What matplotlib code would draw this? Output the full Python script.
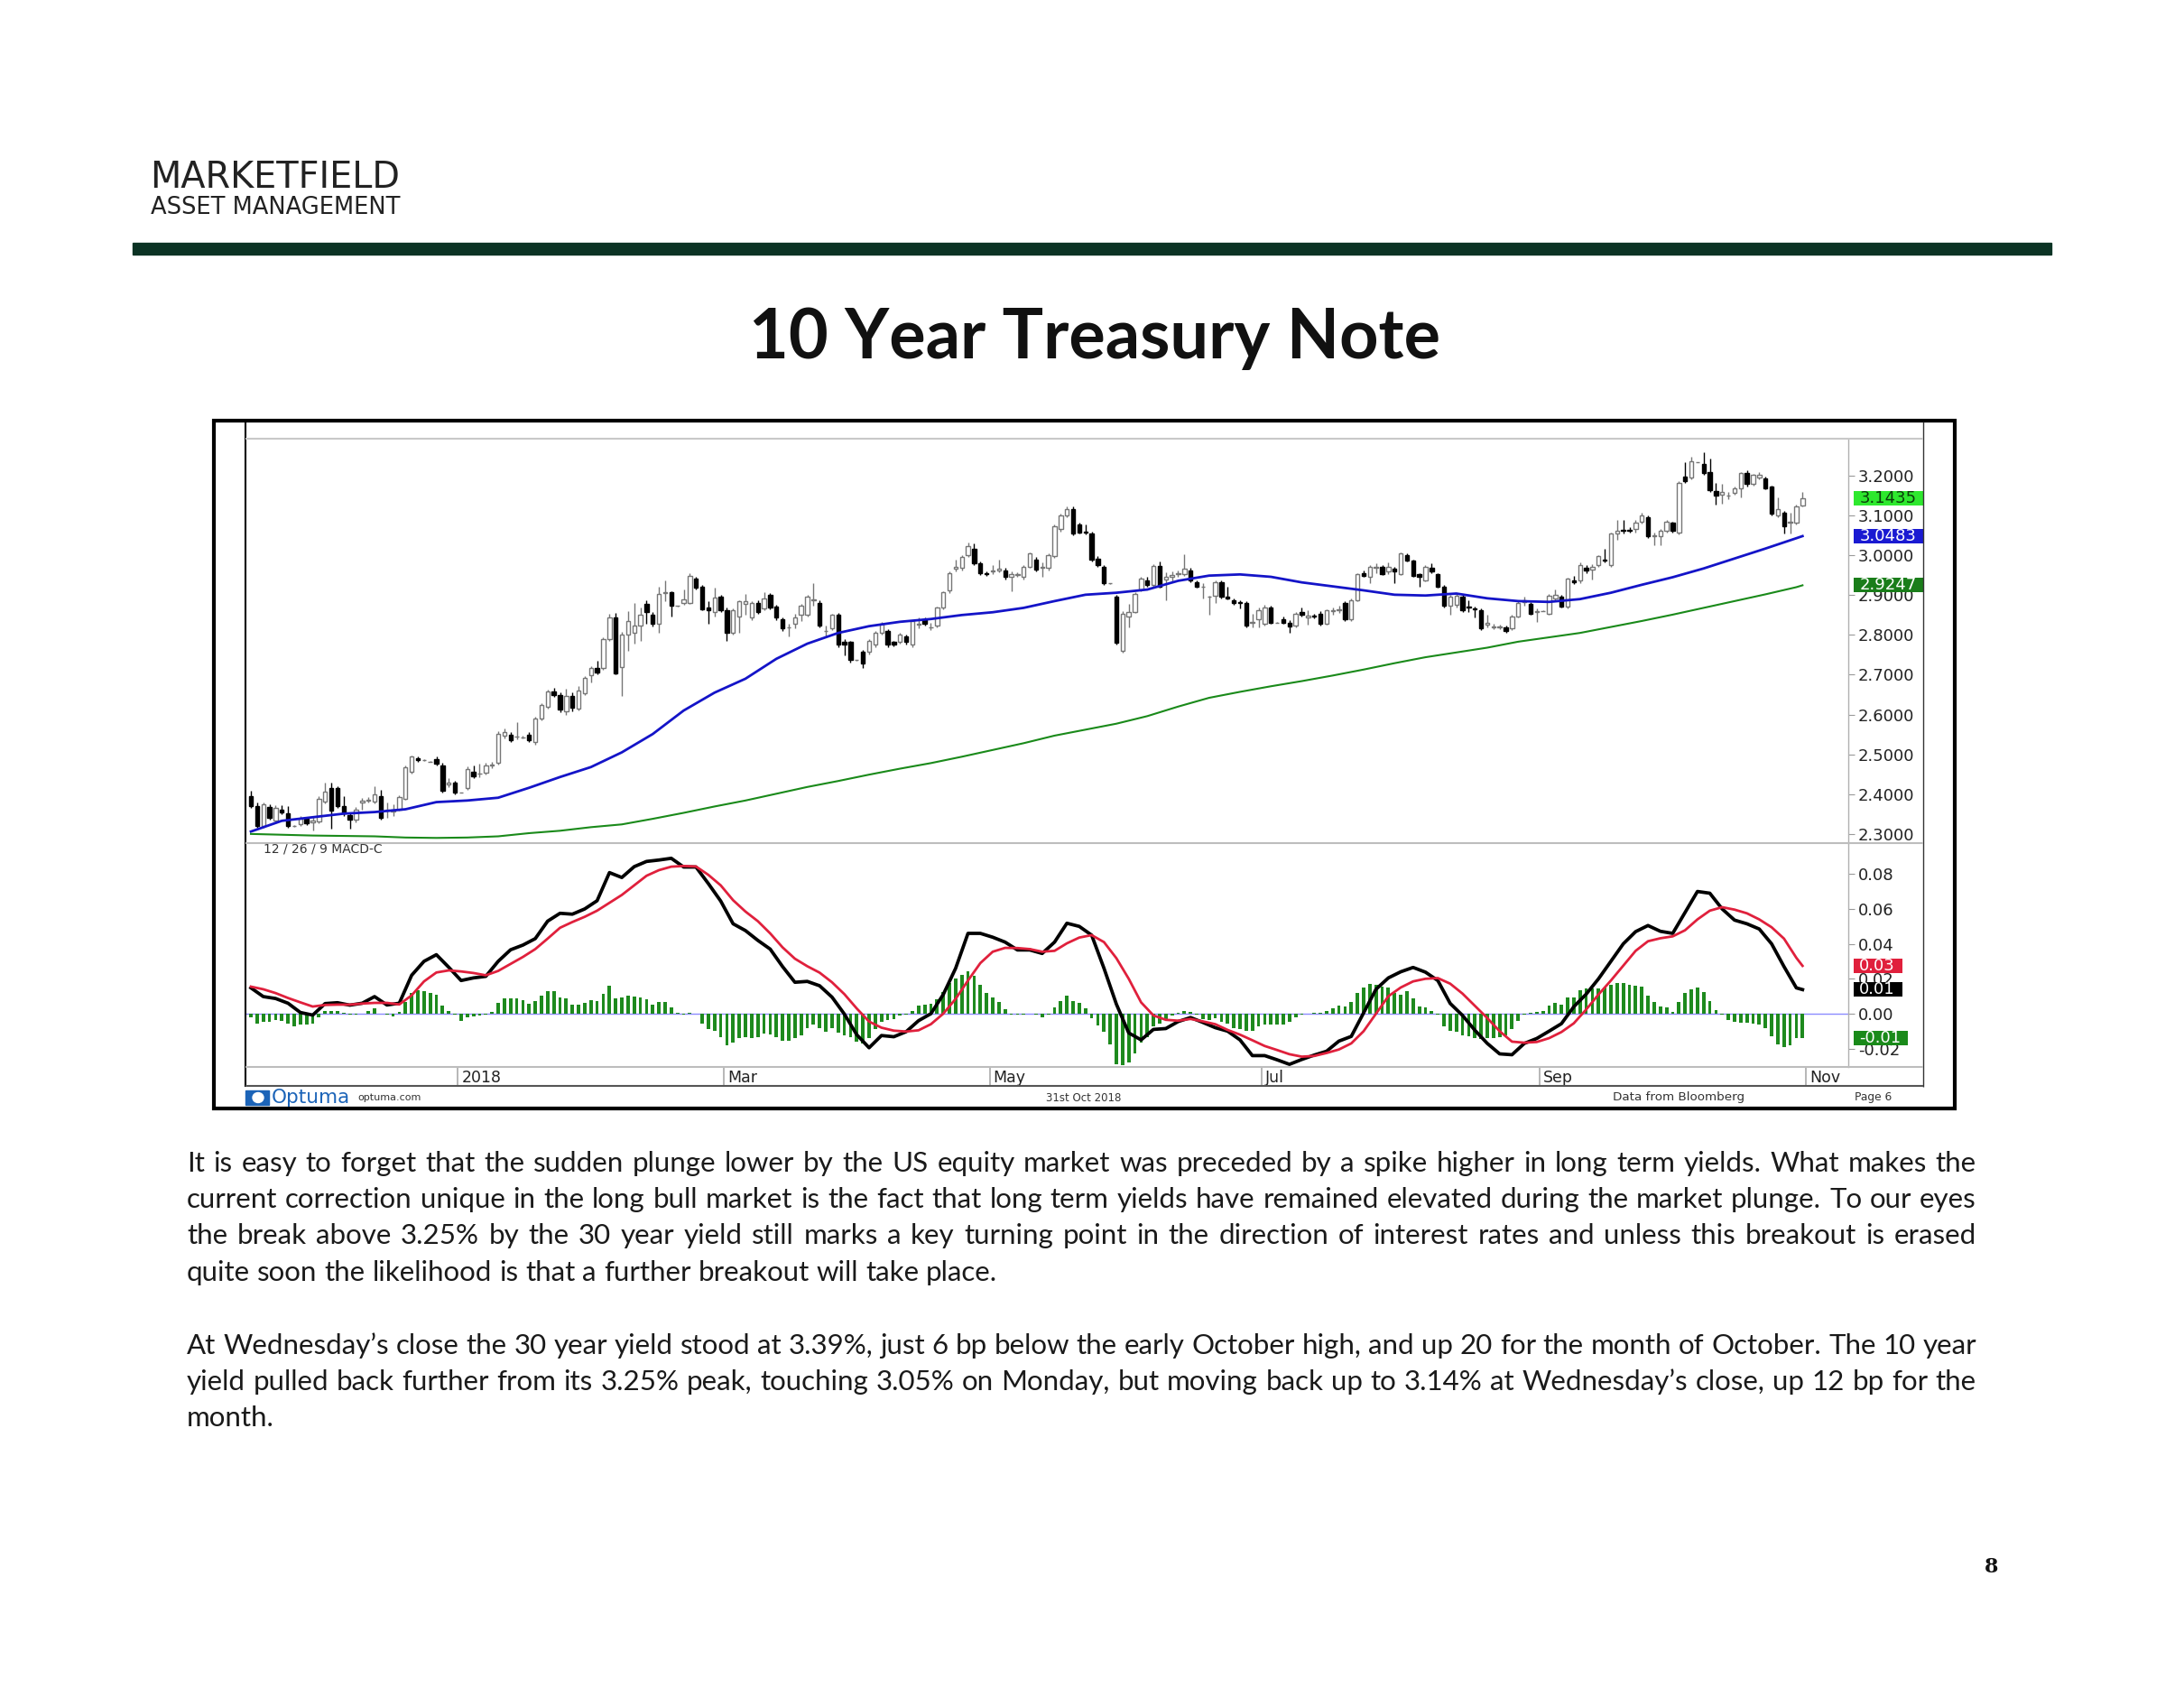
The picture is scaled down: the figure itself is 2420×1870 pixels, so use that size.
"""
10 Year Treasury Note - Marketfield page 8
Candlestick chart of the 10y yield with 50/200 day averages and MACD panel
"""
import matplotlib
matplotlib.use("Agg")
import matplotlib.pyplot as plt
import matplotlib.transforms as mtransforms
from matplotlib.lines import Line2D
from matplotlib.patches import Rectangle, Ellipse
import pandas as pd

# ---------------------------------------------------------------- data
first_day = "2017-11-14"
last_day = "2018-10-31"

opens = [
    2.396, 2.370, 2.320, 2.368, 2.333, 2.360, 2.351, 2.320, 2.324, 2.338,
    2.330, 2.332, 2.381, 2.416, 2.415, 2.371, 2.348, 2.336, 2.380, 2.384,
    2.381, 2.396, 2.358, 2.357, 2.362, 2.389, 2.457, 2.490, 2.485, 2.482,
    2.489, 2.472, 2.424, 2.430, 2.404, 2.415, 2.457, 2.451, 2.453, 2.472,
    2.479, 2.547, 2.549, 2.544, 2.543, 2.549, 2.530, 2.589, 2.620, 2.657,
    2.650, 2.608, 2.646, 2.616, 2.653, 2.699, 2.716, 2.718, 2.790, 2.843,
    2.720, 2.801, 2.805, 2.824, 2.878, 2.850, 2.828, 2.905, 2.907, 2.873,
    2.880, 2.881, 2.941, 2.920, 2.870, 2.858, 2.896, 2.862, 2.805, 2.847,
    2.877, 2.843, 2.880, 2.866, 2.900, 2.871, 2.840, 2.818, 2.828, 2.851,
    2.851, 2.886, 2.881, 2.810, 2.816, 2.850, 2.782, 2.782, 2.737, 2.757,
    2.757, 2.775, 2.805, 2.810, 2.782, 2.782, 2.797, 2.775, 2.826, 2.839,
    2.818, 2.824, 2.869, 2.911, 2.967, 2.968, 3.000, 3.017, 2.979, 2.956,
    2.960, 2.963, 2.963, 2.945, 2.950, 2.945, 2.972, 2.990, 2.968, 2.968,
    2.998, 3.066, 3.100, 3.115, 3.077, 3.060, 3.055, 2.992, 2.972, 2.930,
    2.896, 2.760, 2.847, 2.858, 2.915, 2.936, 2.926, 2.974, 2.940, 2.947,
    2.953, 2.952, 2.963, 2.933, 2.920, 2.895, 2.899, 2.933, 2.896, 2.888,
    2.882, 2.880, 2.830, 2.839, 2.828, 2.869, 2.831, 2.839, 2.830, 2.824,
    2.858, 2.845, 2.848, 2.854, 2.828, 2.860, 2.862, 2.880, 2.839, 2.888,
    2.956, 2.945, 2.968, 2.971, 2.960, 2.967, 2.953, 3.000, 2.987, 2.952,
    2.938, 2.968, 2.952, 2.922, 2.873, 2.875, 2.896, 2.872, 2.867, 2.862,
    2.826, 2.820, 2.820, 2.820, 2.816, 2.847, 2.882, 2.877, 2.858, 2.860,
    2.854, 2.892, 2.896, 2.871, 2.937, 2.937, 2.969, 2.964, 2.975, 2.990,
    2.975, 3.055, 3.063, 3.063, 3.066, 3.085, 3.096, 3.047, 3.047, 3.062,
    3.081, 3.058, 3.198, 3.195, 3.234, 3.229, 3.210, 3.161, 3.153, 3.149,
    3.157, 3.168, 3.206, 3.180, 3.195, 3.193, 3.172, 3.100, 3.108, 3.081,
    3.081, 3.126,
]
highs = [
    2.408, 2.378, 2.380, 2.375, 2.372, 2.372, 2.370, 2.322, 2.345, 2.342,
    2.344, 2.395, 2.430, 2.428, 2.420, 2.395, 2.352, 2.368, 2.390, 2.392,
    2.420, 2.410, 2.380, 2.375, 2.398, 2.472, 2.498, 2.495, 2.487, 2.484,
    2.495, 2.478, 2.440, 2.434, 2.405, 2.470, 2.472, 2.476, 2.478, 2.482,
    2.558, 2.565, 2.555, 2.580, 2.546, 2.555, 2.595, 2.628, 2.662, 2.668,
    2.655, 2.665, 2.655, 2.672, 2.697, 2.722, 2.735, 2.795, 2.852, 2.855,
    2.808, 2.860, 2.880, 2.870, 2.888, 2.858, 2.922, 2.937, 2.910, 2.874,
    2.914, 2.955, 2.946, 2.925, 2.884, 2.919, 2.900, 2.870, 2.866, 2.888,
    2.904, 2.885, 2.886, 2.907, 2.905, 2.875, 2.845, 2.828, 2.854, 2.877,
    2.900, 2.930, 2.886, 2.824, 2.854, 2.855, 2.790, 2.786, 2.738, 2.762,
    2.790, 2.810, 2.832, 2.815, 2.786, 2.805, 2.802, 2.838, 2.843, 2.845,
    2.830, 2.872, 2.910, 2.960, 2.990, 3.000, 3.032, 3.030, 2.985, 2.960,
    2.975, 2.990, 2.968, 2.960, 2.958, 2.976, 3.008, 2.996, 2.983, 3.004,
    3.078, 3.104, 3.123, 3.122, 3.081, 3.077, 3.060, 2.998, 2.976, 2.931,
    2.900, 2.860, 2.877, 2.908, 2.945, 2.945, 2.978, 2.985, 2.957, 2.960,
    2.962, 3.002, 2.968, 2.936, 2.930, 2.899, 2.936, 2.938, 2.922, 2.892,
    2.888, 2.884, 2.852, 2.870, 2.875, 2.873, 2.832, 2.846, 2.838, 2.858,
    2.870, 2.862, 2.852, 2.860, 2.865, 2.868, 2.873, 2.884, 2.892, 2.956,
    2.962, 2.976, 2.980, 2.975, 2.983, 2.971, 3.008, 3.004, 2.990, 2.956,
    2.976, 2.979, 2.955, 2.926, 2.900, 2.902, 2.900, 2.888, 2.872, 2.866,
    2.850, 2.828, 2.826, 2.824, 2.850, 2.884, 2.896, 2.882, 2.866, 2.861,
    2.902, 2.915, 2.900, 2.944, 2.948, 2.982, 2.975, 2.978, 3.000, 3.017,
    3.058, 3.088, 3.088, 3.070, 3.088, 3.108, 3.100, 3.058, 3.066, 3.088,
    3.085, 3.187, 3.233, 3.248, 3.235, 3.259, 3.244, 3.183, 3.180, 3.160,
    3.172, 3.210, 3.214, 3.205, 3.210, 3.198, 3.176, 3.145, 3.112, 3.108,
    3.127, 3.160,
]
lows = [
    2.365, 2.315, 2.315, 2.335, 2.328, 2.350, 2.316, 2.318, 2.320, 2.322,
    2.309, 2.328, 2.376, 2.313, 2.365, 2.345, 2.313, 2.330, 2.360, 2.378,
    2.376, 2.335, 2.340, 2.345, 2.358, 2.385, 2.452, 2.482, 2.483, 2.480,
    2.472, 2.403, 2.418, 2.400, 2.403, 2.410, 2.440, 2.443, 2.450, 2.465,
    2.475, 2.540, 2.530, 2.538, 2.541, 2.530, 2.525, 2.585, 2.615, 2.645,
    2.605, 2.600, 2.608, 2.610, 2.648, 2.680, 2.700, 2.712, 2.785, 2.700,
    2.646, 2.760, 2.778, 2.786, 2.828, 2.822, 2.805, 2.885, 2.846, 2.872,
    2.876, 2.877, 2.915, 2.862, 2.827, 2.847, 2.858, 2.786, 2.800, 2.805,
    2.850, 2.838, 2.852, 2.862, 2.865, 2.838, 2.810, 2.797, 2.816, 2.835,
    2.846, 2.873, 2.820, 2.794, 2.812, 2.770, 2.748, 2.730, 2.736, 2.718,
    2.752, 2.770, 2.800, 2.770, 2.772, 2.778, 2.776, 2.770, 2.816, 2.824,
    2.812, 2.818, 2.865, 2.905, 2.960, 2.962, 2.995, 2.975, 2.950, 2.948,
    2.953, 2.958, 2.940, 2.910, 2.945, 2.940, 2.968, 2.960, 2.945, 2.962,
    2.994, 3.060, 3.096, 3.050, 3.054, 3.052, 2.985, 2.970, 2.926, 2.929,
    2.775, 2.755, 2.820, 2.855, 2.910, 2.920, 2.920, 2.918, 2.888, 2.935,
    2.945, 2.948, 2.932, 2.918, 2.892, 2.850, 2.880, 2.892, 2.890, 2.876,
    2.866, 2.820, 2.820, 2.820, 2.824, 2.828, 2.830, 2.828, 2.805, 2.820,
    2.846, 2.825, 2.842, 2.824, 2.825, 2.850, 2.855, 2.835, 2.835, 2.884,
    2.945, 2.930, 2.955, 2.950, 2.953, 2.930, 2.950, 2.984, 2.945, 2.922,
    2.935, 2.955, 2.918, 2.870, 2.850, 2.870, 2.858, 2.858, 2.843, 2.812,
    2.820, 2.815, 2.814, 2.805, 2.812, 2.843, 2.873, 2.850, 2.832, 2.859,
    2.850, 2.888, 2.868, 2.866, 2.928, 2.930, 2.956, 2.940, 2.970, 2.982,
    2.970, 3.040, 3.055, 3.058, 3.058, 3.080, 3.043, 3.025, 3.025, 3.058,
    3.058, 3.052, 3.183, 3.190, 3.233, 3.202, 3.160, 3.127, 3.130, 3.142,
    3.153, 3.146, 3.172, 3.175, 3.190, 3.165, 3.100, 3.096, 3.055, 3.055,
    3.078, 3.122,
]
closes = [
    2.370, 2.320, 2.374, 2.341, 2.366, 2.355, 2.320, 2.320, 2.339, 2.328,
    2.333, 2.389, 2.407, 2.358, 2.370, 2.351, 2.336, 2.362, 2.383, 2.386,
    2.400, 2.341, 2.360, 2.360, 2.392, 2.468, 2.494, 2.486, 2.485, 2.482,
    2.476, 2.408, 2.430, 2.404, 2.404, 2.464, 2.445, 2.451, 2.472, 2.475,
    2.551, 2.556, 2.536, 2.544, 2.543, 2.536, 2.589, 2.623, 2.657, 2.650,
    2.612, 2.646, 2.617, 2.661, 2.691, 2.718, 2.705, 2.790, 2.843, 2.703,
    2.801, 2.835, 2.824, 2.850, 2.858, 2.828, 2.904, 2.907, 2.873, 2.873,
    2.890, 2.949, 2.918, 2.865, 2.862, 2.894, 2.862, 2.805, 2.862, 2.884,
    2.884, 2.881, 2.858, 2.892, 2.869, 2.843, 2.816, 2.820, 2.843, 2.873,
    2.896, 2.889, 2.824, 2.810, 2.850, 2.775, 2.775, 2.737, 2.737, 2.729,
    2.786, 2.805, 2.828, 2.775, 2.775, 2.801, 2.782, 2.835, 2.828, 2.828,
    2.820, 2.869, 2.907, 2.956, 2.970, 2.996, 3.024, 2.979, 2.956, 2.952,
    2.963, 2.966, 2.945, 2.952, 2.952, 2.972, 3.004, 2.964, 2.970, 3.000,
    3.074, 3.100, 3.115, 3.055, 3.058, 3.057, 2.990, 2.975, 2.930, 2.930,
    2.780, 2.854, 2.858, 2.903, 2.941, 2.926, 2.974, 2.922, 2.945, 2.950,
    2.956, 2.967, 2.937, 2.922, 2.922, 2.895, 2.933, 2.896, 2.892, 2.880,
    2.880, 2.824, 2.832, 2.862, 2.869, 2.831, 2.831, 2.831, 2.822, 2.854,
    2.850, 2.848, 2.846, 2.828, 2.862, 2.862, 2.865, 2.839, 2.888, 2.952,
    2.949, 2.972, 2.971, 2.953, 2.971, 2.960, 3.005, 2.987, 2.949, 2.945,
    2.972, 2.960, 2.922, 2.873, 2.896, 2.899, 2.862, 2.869, 2.865, 2.816,
    2.830, 2.822, 2.822, 2.809, 2.847, 2.881, 2.886, 2.854, 2.860, 2.860,
    2.899, 2.900, 2.871, 2.941, 2.932, 2.975, 2.962, 2.971, 2.998, 2.987,
    3.055, 3.062, 3.062, 3.062, 3.081, 3.100, 3.047, 3.050, 3.062, 3.085,
    3.062, 3.183, 3.187, 3.236, 3.234, 3.206, 3.164, 3.149, 3.160, 3.149,
    3.168, 3.206, 3.180, 3.202, 3.202, 3.168, 3.104, 3.115, 3.074, 3.085,
    3.123, 3.1435,
]

# moving averages, read every 5th bar (last value = last bar)
ma_bars = list(range(0, 251, 5)) + [251]
ma50 = [
    2.306, 2.333, 2.342, 2.351, 2.355, 2.362, 2.380, 2.384, 2.391, 2.416,
    2.443, 2.468, 2.505, 2.551, 2.610, 2.655, 2.690, 2.740, 2.778, 2.805,
    2.822, 2.833, 2.840, 2.850, 2.857, 2.868, 2.885, 2.901, 2.906, 2.914,
    2.936, 2.949, 2.952, 2.946, 2.932, 2.922, 2.912, 2.901, 2.899, 2.904,
    2.892, 2.885, 2.883, 2.890, 2.906, 2.926, 2.945, 2.967, 2.992, 3.017,
    3.043, 3.0483,
]
ma200 = [
    2.300, 2.298, 2.296, 2.295, 2.294, 2.291, 2.290, 2.291, 2.294, 2.302,
    2.308, 2.317, 2.324, 2.338, 2.353, 2.369, 2.384, 2.401, 2.418, 2.433,
    2.449, 2.464, 2.478, 2.494, 2.511, 2.528, 2.547, 2.562, 2.577, 2.596,
    2.620, 2.642, 2.657, 2.671, 2.684, 2.698, 2.713, 2.729, 2.744, 2.756,
    2.768, 2.783, 2.794, 2.805, 2.820, 2.835, 2.851, 2.868, 2.885, 2.902,
    2.920, 2.9247,
]

# MACD 12/26/9, lines read every 2nd bar, histogram every bar
macd_bars = list(range(0, 251, 2)) + [251]
macd_line = [
    0.0148, 0.0098, 0.0087, 0.0060, 0.0007, -0.0008, 0.0058, 0.0063, 0.0049, 0.0060,
    0.0098, 0.0050, 0.0060, 0.0220, 0.0300, 0.0338, 0.0266, 0.0190, 0.0205, 0.0214,
    0.0300, 0.0366, 0.0393, 0.0430, 0.0530, 0.0575, 0.0570, 0.0600, 0.0647, 0.0808,
    0.0780, 0.0842, 0.0872, 0.0880, 0.0890, 0.0840, 0.0840, 0.0745, 0.0645, 0.0515,
    0.0476, 0.0420, 0.0370, 0.0270, 0.0180, 0.0185, 0.0160, 0.0095, -0.0002, -0.0120,
    -0.0195, -0.0125, -0.0132, -0.0103, -0.0040, 0.0000, 0.0110, 0.0260, 0.0460, 0.0460,
    0.0438, 0.0410, 0.0365, 0.0365, 0.0345, 0.0410, 0.0518, 0.0500, 0.0450, 0.0260,
    0.0055, -0.0110, -0.0150, -0.0090, -0.0085, -0.0045, -0.0022, -0.0050, -0.0080, -0.0100,
    -0.0150, -0.0240, -0.0240, -0.0264, -0.0290, -0.0262, -0.0237, -0.0215, -0.0157, -0.0130,
    0.0005, 0.0140, 0.0205, 0.0240, 0.0265, 0.0238, 0.0190, 0.0059, -0.0010, -0.0095,
    -0.0170, -0.0230, -0.0235, -0.0170, -0.0142, -0.0100, -0.0057, 0.0040, 0.0112, 0.0200,
    0.0300, 0.0400, 0.0470, 0.0505, 0.0472, 0.0460, 0.0580, 0.0700, 0.0690, 0.0600,
    0.0536, 0.0515, 0.0485, 0.0400, 0.0270, 0.0148,
    0.0138,
]
signal_line = [
    0.0155, 0.0140, 0.0118, 0.0090, 0.0065, 0.0041, 0.0050, 0.0052, 0.0052, 0.0058,
    0.0062, 0.0062, 0.0053, 0.0105, 0.0185, 0.0236, 0.0248, 0.0242, 0.0233, 0.0220,
    0.0245, 0.0285, 0.0325, 0.0370, 0.0430, 0.0492, 0.0525, 0.0555, 0.0590, 0.0635,
    0.0680, 0.0735, 0.0790, 0.0822, 0.0842, 0.0846, 0.0843, 0.0795, 0.0735, 0.0650,
    0.0585, 0.0530, 0.0460, 0.0380, 0.0315, 0.0272, 0.0235, 0.0180, 0.0112, 0.0030,
    -0.0045, -0.0080, -0.0097, -0.0102, -0.0095, -0.0060, 0.0000, 0.0085, 0.0190, 0.0290,
    0.0355, 0.0377, 0.0376, 0.0370, 0.0355, 0.0360, 0.0403, 0.0436, 0.0450, 0.0410,
    0.0318, 0.0200, 0.0065, -0.0010, -0.0035, -0.0040, -0.0030, -0.0044, -0.0060, -0.0093,
    -0.0120, -0.0152, -0.0185, -0.0208, -0.0232, -0.0246, -0.0242, -0.0225, -0.0205, -0.0170,
    -0.0100, 0.0000, 0.0100, 0.0150, 0.0185, 0.0200, 0.0204, 0.0172, 0.0115, 0.0045,
    -0.0025, -0.0100, -0.0160, -0.0166, -0.0162, -0.0140, -0.0105, -0.0055, 0.0024, 0.0110,
    0.0190, 0.0275, 0.0360, 0.0415, 0.0432, 0.0443, 0.0478, 0.0540, 0.0590, 0.0610,
    0.0596, 0.0575, 0.0540, 0.0495, 0.0430, 0.0320,
    0.0274,
]
macd_hist = [
    -0.0020, -0.0055, -0.0047, -0.0047, -0.0038, -0.0040, -0.0055, -0.0072, -0.0064, -0.0064, -0.0055, -0.0020,
    0.0017, 0.0017, 0.0014, 0.0005, -0.0007, -0.0007, 0.0000, 0.0014, 0.0030, 0.0000, -0.0007, -0.0017,
    0.0010, 0.0065, 0.0117, 0.0134, 0.0130, 0.0117, 0.0108, 0.0048, 0.0017, -0.0007, -0.0040, -0.0020,
    -0.0017, -0.0012, -0.0003, 0.0010, 0.0062, 0.0090, 0.0090, 0.0086, 0.0078, 0.0057, 0.0074, 0.0103,
    0.0129, 0.0129, 0.0095, 0.0086, 0.0052, 0.0052, 0.0062, 0.0079, 0.0074, 0.0112, 0.0158, 0.0088,
    0.0095, 0.0103, 0.0100, 0.0095, 0.0083, 0.0052, 0.0065, 0.0065, 0.0034, 0.0005, -0.0003, 0.0005,
    0.0000, -0.0055, -0.0090, -0.0098, -0.0133, -0.0179, -0.0167, -0.0138, -0.0133, -0.0138, -0.0133, -0.0115,
    -0.0120, -0.0133, -0.0155, -0.0155, -0.0141, -0.0124, -0.0081, -0.0060, -0.0085, -0.0103, -0.0083, -0.0110,
    -0.0124, -0.0133, -0.0158, -0.0172, -0.0141, -0.0090, -0.0047, -0.0034, -0.0029, -0.0012, -0.0007, 0.0017,
    0.0048, 0.0052, 0.0057, 0.0083, 0.0126, 0.0177, 0.0203, 0.0224, 0.0241, 0.0217, 0.0165, 0.0121,
    0.0091, 0.0065, 0.0028, -0.0003, -0.0007, -0.0007, 0.0000, -0.0007, -0.0020, -0.0007, 0.0034, 0.0074,
    0.0103, 0.0074, 0.0062, 0.0031, -0.0024, -0.0069, -0.0103, -0.0176, -0.0288, -0.0293, -0.0279, -0.0227,
    -0.0167, -0.0133, -0.0072, -0.0055, -0.0038, -0.0012, 0.0005, 0.0017, 0.0009, -0.0007, -0.0029, -0.0034,
    -0.0024, -0.0047, -0.0055, -0.0081, -0.0090, -0.0098, -0.0098, -0.0072, -0.0064, -0.0064, -0.0064, -0.0064,
    -0.0047, -0.0020, -0.0003, 0.0000, 0.0005, 0.0005, 0.0014, 0.0031, 0.0048, 0.0040, 0.0065, 0.0117,
    0.0152, 0.0172, 0.0165, 0.0155, 0.0152, 0.0117, 0.0108, 0.0128, 0.0086, 0.0040, 0.0034, 0.0017,
    -0.0003, -0.0072, -0.0098, -0.0103, -0.0124, -0.0129, -0.0138, -0.0145, -0.0141, -0.0138, -0.0133, -0.0124,
    -0.0090, -0.0041, -0.0003, 0.0003, 0.0009, 0.0014, 0.0048, 0.0062, 0.0052, 0.0091, 0.0091, 0.0134,
    0.0143, 0.0143, 0.0143, 0.0152, 0.0165, 0.0177, 0.0177, 0.0165, 0.0160, 0.0155, 0.0103, 0.0065,
    0.0040, 0.0034, 0.0009, 0.0069, 0.0120, 0.0138, 0.0152, 0.0126, 0.0074, 0.0022, -0.0003, -0.0034,
    -0.0047, -0.0052, -0.0052, -0.0055, -0.0064, -0.0081, -0.0129, -0.0176, -0.0189, -0.0179, -0.0138, -0.0140,
]

price_ticks = [2.3, 2.4, 2.5, 2.6, 2.7, 2.8, 2.9, 3.0, 3.1, 3.2]
macd_ticks = [-0.02, 0.0, 0.02, 0.04, 0.06, 0.08]
month_labels = ["2018", "Mar", "May", "Jul", "Sep", "Nov"]
month_numbers = [1, 3, 5, 7, 9, 11]

paragraph_1 = [
    "It is easy to forget that the sudden plunge lower by the US equity market was preceded by a spike higher in long term yields. What makes the",
    "current correction unique in the long bull market is the fact that long term yields have remained elevated during the market plunge. To our eyes",
    "the break above 3.25% by the 30 year yield still marks a key turning point in the direction of interest rates and unless this breakout is erased",
    "quite soon the likelihood is that a further breakout will take place.",
]
paragraph_2 = [
    "At Wednesday\u2019s close the 30 year yield stood at 3.39%, just 6 bp below the early October high, and up 20 for the month of October. The 10 year",
    "yield pulled back further from its 3.25% peak, touching 3.05% on Monday, but moving back up to 3.14% at Wednesday\u2019s close, up 12 bp for the",
    "month.",
]

# ---------------------------------------------------------------- layout
W, H, DPI = 2420, 1870, 100


def fx(x):
    return x / W


def fy(y):
    return 1 - y / H


def plot_page():
    fig = plt.figure(figsize=(W / DPI, H / DPI), dpi=DPI)
    fig.patch.set_facecolor("white")

    def line(x0, y0, x1, y1, color, lw):
        fig.add_artist(Line2D([fx(x0), fx(x1)], [fy(y0), fy(y1)], transform=fig.transFigure,
                              color=color, linewidth=lw, solid_capstyle="butt"))

    # header
    fig.text(fx(166), fy(208), "MARKETFIELD", fontsize=28.7, color="#222222", va="baseline")
    fig.text(fx(167), fy(237), "ASSET MANAGEMENT", fontsize=18.5, color="#222222", va="baseline")
    fig.add_artist(Rectangle((fx(147), fy(282)), (2273 - 147) / W, 13 / H,
                             transform=fig.transFigure, color="#0b3324"))
    fig.text(fx(1213), fy(397), "10 Year Treasury Note", fontsize=54.5, family="Lato",
             weight="bold", ha="center", va="baseline", color="#111111")

    # chart frame
    fig.add_artist(Rectangle((fx(237), fy(1228)), (2166 - 237) / W, (1228 - 466) / H,
                             transform=fig.transFigure, fill=False, edgecolor="black", linewidth=3))
    line(272, 467, 272, 1204, "black", 1.5)
    line(2131, 467, 2131, 1204, "#333333", 1.0)
    line(272, 486, 2131, 486, "#c8c8c8", 1.5)
    line(272, 934, 2131, 934, "#bdbdbd", 1.5)
    line(272, 1182, 2131, 1182, "#bdbdbd", 1.5)
    line(272, 1203, 2131, 1203, "#555555", 1.5)

    n = len(closes)
    bars = list(range(n))
    xlim = (-0.88, 258.4)

    ax = fig.add_axes([fx(272), fy(934), (2048 - 272) / W, (934 - 486) / H])
    ax2 = fig.add_axes([fx(272), fy(1182), (2048 - 272) / W, (1182 - 934) / H], sharex=ax)
    ax3 = fig.add_axes([fx(272), fy(1203), (2048 - 272) / W, (1203 - 1182) / H], sharex=ax)

    for a in (ax, ax2, ax3):
        a.set_facecolor("none")
        for s in ("top", "left", "bottom"):
            a.spines[s].set_visible(False)
        a.spines["right"].set_color("#b0b0b0")
        a.spines["right"].set_linewidth(1.0)
        a.tick_params(axis="x", bottom=False, labelbottom=False)
    ax3.spines["right"].set_visible(False)
    ax3.set_yticks([])
    ax.set_xlim(*xlim)

    # candles
    up = [c >= o for o, c in zip(opens, closes)]
    edge = ["#767676" if u else "black" for u in up]
    face = ["white" if u else "black" for u in up]
    ax.vlines(bars, lows, highs, colors=edge, linewidth=1.0, zorder=2)
    ax.bar(bars, [abs(c - o) for o, c in zip(opens, closes)],
           bottom=[min(o, c) for o, c in zip(opens, closes)],
           width=0.64, color=face, edgecolor=edge, linewidth=1.0, zorder=2.2)
    ax.plot(ma_bars, ma50, color="#1414c8", linewidth=2.0, zorder=3)
    ax.plot(ma_bars, ma200, color="#1a8a1a", linewidth=1.5, zorder=3)
    ax.set_ylim(2.277, 3.293)

    ax.yaxis.tick_right()
    ax.set_yticks(price_ticks)
    ax.set_yticklabels([f"{v:.4f}" for v in price_ticks])
    ax.tick_params(axis="y", length=5, width=0.8, color="#999999", pad=3,
                   labelsize=13, labelcolor="#222222")

    # MACD panel
    ax2.axhline(0, color="#8c8cff", linewidth=1.0, zorder=1)
    ax2.bar(bars, macd_hist, width=0.55, color="#1e8a1e", zorder=2)
    ax2.plot(macd_bars, macd_line, color="black", linewidth=2.7, zorder=3)
    ax2.plot(macd_bars, signal_line, color="#e0203c", linewidth=2.0, zorder=3.1)
    ax2.set_ylim(-0.0305, 0.0977)
    ax2.yaxis.tick_right()
    ax2.set_yticks(macd_ticks)
    ax2.set_yticklabels([f"{v:.2f}" for v in macd_ticks])
    ax2.tick_params(axis="y", length=5, width=0.8, color="#999999", pad=3,
                    labelsize=13, labelcolor="#222222")
    ax2.text(0.0113, 0.972, "12 / 26 / 9 MACD-C", transform=ax2.transAxes,
             fontsize=10, color="#333333", va="center")

    # last value boxes on the right scale (they sit over the tick labels, as in the source)
    def value_box(a, value, label, face_c, text_c, x1, h):
        trans = mtransforms.blended_transform_factory(a.transAxes, a.transData)
        x0 = (2054 - 272) / 1776
        x1 = (x1 - 272) / 1776
        a.add_patch(Rectangle((x0, value - h / 2), x1 - x0, h, transform=trans,
                              facecolor=face_c, edgecolor="none", clip_on=False, zorder=5))
        a.text(x0 + 0.0035, value, label, transform=trans, fontsize=13, color=text_c,
               va="center", ha="left", clip_on=False, zorder=6)

    value_box(ax, closes[-1], f"{closes[-1]:.4f}", "#2ee82e", "#0a3d0a", 2131, 0.036)
    value_box(ax, ma50[-1], f"{ma50[-1]:.4f}", "#1a1ad2", "white", 2131, 0.036)
    value_box(ax, ma200[-1], f"{ma200[-1]:.4f}", "#1a7d1a", "white", 2131, 0.036)
    value_box(ax2, signal_line[-1], f"{signal_line[-1]:.2f}", "#e0203c", "white", 2108, 0.0082)
    value_box(ax2, macd_line[-1], f"{macd_line[-1]:.2f}", "black", "white", 2108, 0.0082)
    value_box(ax2, macd_hist[-1], f"{macd_hist[-1]:.2f}", "#1a8a1a", "white", 2114, 0.0082)

    # month band
    dates = pd.bdate_range(first_day, last_day)
    starts = {}
    for i in range(1, len(dates)):
        if dates[i].month != dates[i - 1].month and dates[i].month not in starts:
            starts[dates[i].month] = i
    starts[11] = len(dates)
    band = mtransforms.blended_transform_factory(ax3.transData, ax3.transAxes)
    for m, lab in zip(month_numbers, month_labels):
        xb = starts[m] - 0.5
        ax3.axvline(xb, color="#aaaaaa", linewidth=1.2)
        ax3.text(xb + 0.6, 0.45, lab, transform=band, fontsize=12.5, color="#222222",
                 va="center", ha="left", clip_on=False)

    # footer of the chart
    fig.add_artist(Rectangle((fx(272), fy(1224)), 26 / W, 16 / H,
                             transform=fig.transFigure, color="#1c64b8"))
    fig.add_artist(Ellipse((fx(286), fy(1216)), 12 / W, 11 / H,
                           transform=fig.transFigure, color="white"))
    fig.text(fx(301), fy(1216), "Optuma", fontsize=15.5, color="#1c64b8", va="center")
    fig.text(fx(396), fy(1216), "optuma.com", fontsize=8, color="#333333", va="center")
    fig.text(fx(1201), fy(1216), "31st Oct 2018", fontsize=8.5, color="#333333",
             ha="center", va="center")
    fig.text(fx(1860), fy(1215), "Data from Bloomberg", fontsize=9.7, color="#333333",
             ha="center", va="center")
    fig.text(fx(2055), fy(1216), "Page 6", fontsize=8.8, color="#333333", va="center")

    # body text, justified
    renderer = fig.canvas.get_renderer()
    body = dict(fontsize=22.5, family="Lato", color="#1a1a1a")

    def width_of(s):
        t = fig.text(0, 0, s, **body)
        w = t.get_window_extent(renderer).width
        t.remove()
        return w

    space = width_of("a a") - width_of("aa")

    def put_line(s, y, last):
        words = s.split(" ")
        widths = [width_of(w) for w in words]
        gap = space
        if not last and len(words) > 1:
            gap = (2190 - 207 - sum(widths)) / (len(words) - 1)
        x = 207
        for w, wd in zip(words, widths):
            fig.text(fx(x), fy(y), w, va="baseline", ha="left", **body)
            x += wd + gap

    for k, s in enumerate(paragraph_1):
        put_line(s, 1298 + 40.2 * k, k == len(paragraph_1) - 1)
    for k, s in enumerate(paragraph_2):
        put_line(s, 1500 + 40.2 * k, k == len(paragraph_2) - 1)

    fig.text(fx(2207), fy(1742), "8", fontsize=16, family="DejaVu Serif", weight="bold",
             ha="center", va="baseline", color="#111111")

    fig.savefig("out.png", dpi=DPI)
    print("Saved: out.png")


if __name__ == "__main__":
    plot_page()
